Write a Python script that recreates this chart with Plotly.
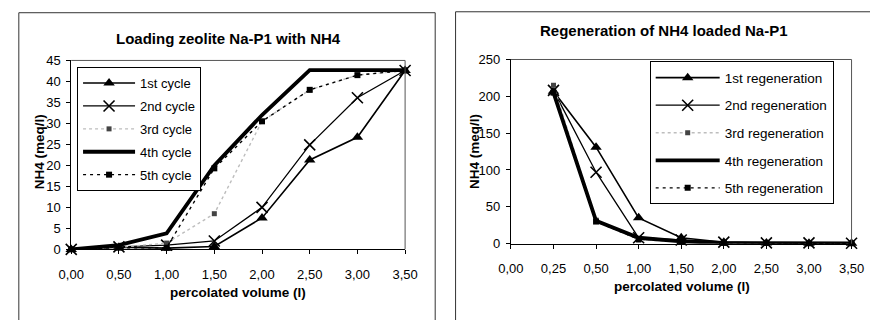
import plotly.graph_objects as go

# ---- data ----
load_volume = ["0,00", "0,50", "1,00", "1,50", "2,00", "2,50", "3,00", "3,50"]
load_cycle1 = [0.0, 0.5, 0.3, 0.7, 7.5, 21.3, 26.7, 42.6]
load_cycle2 = [0.0, 0.6, 1.0, 2.0, 10.0, 24.9, 36.1, 42.6]
load_cycle3 = [0.0, 0.5, 1.5, 8.5, 30.5, 38.0, 41.5, 42.6]
load_cycle4 = [0.0, 1.0, 3.8, 20.0, 32.0, 42.7, 42.7, 42.7]
load_cycle5 = [0.0, 0.4, 0.4, 19.3, 30.5, 38.0, 41.5, 42.6]

regen_axis = ["0,00", "0,25", "0,50", "1,00", "1,50", "2,00", "2,50", "3,00", "3,50"]
regen_volume = ["0,25", "0,50", "1,00", "1,50", "2,00", "2,50", "3,00", "3,50"]
regen1 = [207, 131, 35, 8, 2, 1, 0.5, 0.5]
regen2 = [208, 97, 8, 5, 2, 1, 1, 0.5]
regen3 = [215, 32, 5, 3, 1, 1, 0.5, 0.5]
regen4 = [205, 31, 8, 3, 1, 1, 0.5, 0.5]
regen5 = [205, 30, 6, 3, 1, 1, 0.5, 0.5]

load_names = ["1st cycle", "2nd cycle", "3rd cycle", "4th cycle", "5th cycle"]
regen_names = ["1st regeneration", "2nd regeneration", "3rd regeneration",
               "4th regeneration", "5th regeneration"]

W, H = 883, 328
FONT = "Liberation Sans, Arial, sans-serif"


def px(x):
    return x / W


def py(y):
    return (H - y) / H


styles = [
    dict(line=dict(color="black", width=1.6),
         marker=dict(symbol="triangle-up", size=10, color="black"), mode="lines+markers"),
    dict(line=dict(color="black", width=1.3),
         marker=dict(symbol="x-thin-open", size=11, color="black",
                     line=dict(color="black", width=1.6)), mode="lines+markers"),
    dict(line=dict(color="#bdbdbd", width=1.4, dash="dot"),
         marker=dict(symbol="square", size=5, color="#444444"), mode="lines+markers"),
    dict(line=dict(color="black", width=3.8), mode="lines"),
    dict(line=dict(color="black", width=1.4, dash="3px,4px"),
         marker=dict(symbol="square", size=6, color="black"), mode="lines+markers"),
]

fig = go.Figure()

for name, ys, st in zip(load_names,
                        [load_cycle1, load_cycle2, load_cycle3, load_cycle4, load_cycle5],
                        styles):
    fig.add_trace(go.Scatter(x=load_volume, y=ys, name=name, xaxis="x", yaxis="y",
                             legend="legend", legendgroup=name, cliponaxis=False, **st))

for name, ys, st in zip(regen_names, [regen1, regen2, regen3, regen4, regen5], styles):
    fig.add_trace(go.Scatter(x=regen_volume, y=ys, name=name, xaxis="x2", yaxis="y2",
                             legend="legend2", legendgroup=name, cliponaxis=False, **st))

axis_common = dict(showgrid=False, zeroline=False, showline=True, linecolor="black",
                   linewidth=1, ticks="outside", ticklen=4, tickcolor="black",
                   tickfont=dict(family=FONT, size=13, color="black"))

fig.update_layout(
    width=W, height=H,
    margin=dict(l=0, r=0, t=0, b=0),
    paper_bgcolor="white", plot_bgcolor="white",
    font=dict(family=FONT, color="black"),
    xaxis=dict(domain=[px(60), px(404)], anchor="y", type="category",
               categoryorder="array", categoryarray=load_volume,
               range=[0, len(load_volume) - 1], ticklabelstandoff=9, **axis_common),
    yaxis=dict(domain=[py(254), py(56)], anchor="x", range=[0, 45], dtick=5,
               ticklabelstandoff=3, **axis_common),
    xaxis2=dict(domain=[px(513), px(864)], anchor="y2", type="category",
                categoryorder="array", categoryarray=regen_axis,
                range=[0, len(regen_axis) - 1], ticklabelstandoff=9, **axis_common),
    yaxis2=dict(domain=[py(248), py(55)], anchor="x2", range=[0, 250], dtick=50,
                ticklabelstandoff=3, **axis_common),
    legend=dict(x=px(66), y=py(63), xanchor="left", yanchor="top",
                bgcolor="white", bordercolor="black", borderwidth=1,
                font=dict(family=FONT, size=13, color="black"),
                itemwidth=52, tracegroupgap=3, traceorder="grouped"),
    legend2=dict(x=px(656), y=py(57), xanchor="left", yanchor="top",
                 bgcolor="white", bordercolor="black", borderwidth=1,
                 font=dict(family=FONT, size=13.5, color="black"),
                 itemwidth=64, tracegroupgap=7, traceorder="grouped",
                 entrywidth=185, entrywidthmode="pixels"),
    showlegend=True,
)


def seg(x0, y0, x1, y1, color="#555555"):
    return dict(type="line", xref="paper", yref="paper",
                x0=px(x0), x1=px(x1), y0=py(y0), y1=py(y1),
                line=dict(color=color, width=1))


# plot-area top/right edges and the outer chart frames (kept inside the page)
shapes = [
    seg(60, 56, 404, 56), seg(404, 56, 404, 254),
    seg(513, 55, 864, 55), seg(864, 55, 864, 248),
    seg(6, 6, 435, 6, "#333333"), seg(6, 6, 6, 328, "#333333"), seg(435, 6, 435, 328, "#333333"),
    seg(456, 5, 883, 5, "#333333"), seg(456, 5, 456, 328, "#333333"),
]

annotations = [
    dict(text="<b>Loading zeolite Na-P1 with NH4</b>", x=px(222), y=py(33),
         font=dict(size=15)),
    dict(text="<b>Regeneration of NH4 loaded Na-P1</b>", x=px(671), y=py(25),
         font=dict(size=15)),
    dict(text="<b>percolated volume (l)</b>", x=px(232), y=py(299), font=dict(size=13.5)),
    dict(text="<b>percolated volume (l)</b>", x=px(689), y=py(293), font=dict(size=13.5)),
    dict(text="<b>NH4 (meq/l)</b>", x=px(27), y=py(152), textangle=-90, font=dict(size=13.5)),
    dict(text="<b>NH4 (meq/l)</b>", x=px(475), y=py(152), textangle=-90, font=dict(size=13.5)),
]
for a in annotations:
    a.update(xref="paper", yref="paper", showarrow=False, xanchor="center", yanchor="middle")
    a["font"].update(family=FONT, color="black")

fig.update_layout(shapes=shapes, annotations=annotations)

fig.write_html("out.html")
